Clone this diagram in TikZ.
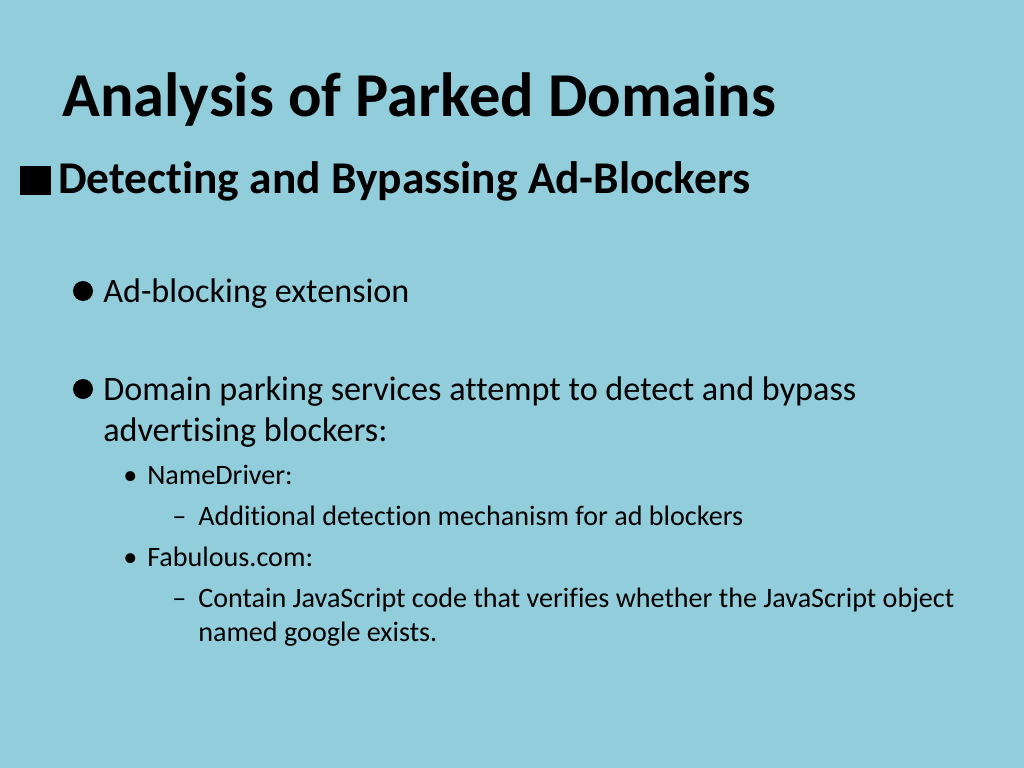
\documentclass[tikz,border=0pt]{standalone}
\usepackage{fontspec}
\setmainfont{Carlito}[RawFeature=-liga]
\definecolor{slidebg}{RGB}{146,205,220}
\tikzset{
  title/.style={anchor=base west, inner sep=0pt, font=\fontsize{44.4}{50}\selectfont\bfseries},
  subtitle/.style={anchor=base west, inner sep=0pt, font=\fontsize{32.3}{38}\selectfont\bfseries},
  lvlone/.style={anchor=base west, inner sep=0pt, font=\fontsize{24.3}{29}\selectfont},
  lvltwo/.style={anchor=base west, inner sep=0pt, font=\fontsize{20}{24}\selectfont},
}
\begin{document}
\begin{tikzpicture}[x=0.025cm, y=-0.025cm]
\fill[slidebg] (0,0) rectangle (1024,768);
\useasboundingbox (0,0) rectangle (1024,768);

\node[title] (head) at (62,117) {Analysis of Parked Domains};
\fill (20,166) rectangle (51,195);
\node[subtitle] (sub) at (58,193) {Detecting and Bypassing Ad-Blockers};

\fill (83,291) circle (10);
\node[lvlone] (ext) at (103,302) {Ad-blocking extension};
\fill (83,389) circle (10);
\node[lvlone] (park) at (103,400) {Domain parking services attempt to detect and bypass};
\node[lvlone] (parkb) at (103,441) {advertising blockers:};

\node[lvltwo] (ndbul) at (123,484) {\textbullet};
\node[lvltwo] (nd) at (147,484) {NameDriver:};
\node[lvltwo] (nddash) at (172,525) {--};
\node[lvltwo] (ndtxt) at (198,525) {Additional detection mechanism for ad blockers};
\node[lvltwo] (fabbul) at (123,566) {\textbullet};
\node[lvltwo] (fab) at (147,566) {Fabulous.com:};
\node[lvltwo] (fabdash) at (172,607) {--};
\node[lvltwo] (fabtxt) at (198,607) {Contain JavaScript code that verifies whether the JavaScript object};
\node[lvltwo] (fabtxtb) at (198,641) {named google exists.};
\end{tikzpicture}
\end{document}
